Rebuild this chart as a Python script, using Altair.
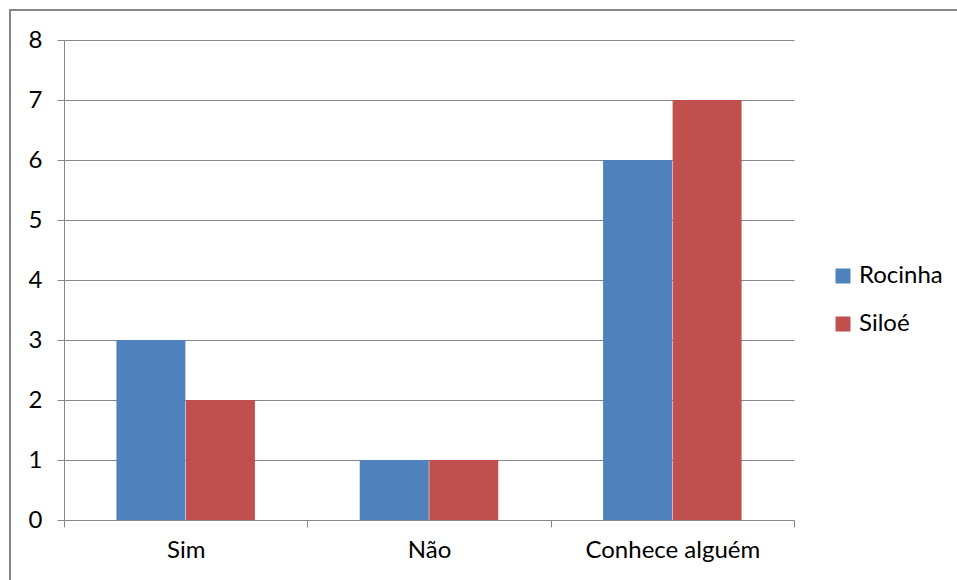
import altair as alt
import pandas as pd

# Survey answers per community
categories = ["Sim", "Não", "Conhece alguém"]
rocinha = [3, 1, 6]
siloe = [2, 1, 7]
series_names = ["Rocinha", "Siloé"]
series_colors = ["#4F81BD", "#C0504D"]

rows = []
for cat, r, s in zip(categories, rocinha, siloe):
    rows.append({"categoria": cat, "serie": "Rocinha", "valor": r})
    rows.append({"categoria": cat, "serie": "Siloé", "valor": s})
df = pd.DataFrame(rows)

FONT = "Lato"
FS = 24
GRID = "#868686"

bars = alt.Chart(df).mark_bar(size=69).encode(
    x=alt.X(
        "categoria:N",
        sort=categories,
        title=None,
        scale=alt.Scale(paddingInner=0, paddingOuter=0),
        axis=alt.Axis(
            tickBand="extent",
            labelAngle=0,
            labelFontSize=FS,
            labelFont=FONT,
            labelColor="#000000",
            labelPadding=11,
            tickSize=7,
            tickColor=GRID,
            domainColor=GRID,
            grid=False,
        ),
    ),
    xOffset=alt.XOffset(
        "serie:N",
        sort=series_names,
        scale=alt.Scale(paddingInner=0, paddingOuter=0.75),
    ),
    y=alt.Y(
        "valor:Q",
        title=None,
        scale=alt.Scale(domain=[0, 8], nice=False),
        axis=alt.Axis(
            values=list(range(0, 9)),
            labelFontSize=FS,
            labelFont=FONT,
            labelColor="#000000",
            labelPadding=15,
            tickSize=7,
            tickColor=GRID,
            domainColor=GRID,
            gridColor=GRID,
            grid=True,
        ),
    ),
    color=alt.Color(
        "serie:N",
        sort=series_names,
        scale=alt.Scale(domain=series_names, range=series_colors),
        legend=alt.Legend(
            title=None,
            orient="none",
            legendX=767,
            legendY=224,
            symbolType="square",
            symbolSize=225,
            symbolStrokeWidth=0,
            labelFontSize=FS,
            labelFont=FONT,
            labelColor="#000000",
            labelOffset=4,
            rowPadding=24,
        ),
    ),
)

# Outer chart frame
frame = alt.Chart(pd.DataFrame({"k": [0]})).mark_rect(
    fill=None, stroke=GRID, strokeWidth=2
).encode(
    x=alt.value(-54),
    x2=alt.value(1000),
    y=alt.value(-30),
    y2=alt.value(700),
)

chart = alt.layer(frame, bars).properties(
    width=730,
    height=480,
    autosize=alt.AutoSizeParams(type="none"),
    padding={"left": 64, "top": 40, "right": 163, "bottom": 60},
).configure_view(stroke=None)

chart.save("out.html", embed_options={"renderer": "svg", "actions": False})
